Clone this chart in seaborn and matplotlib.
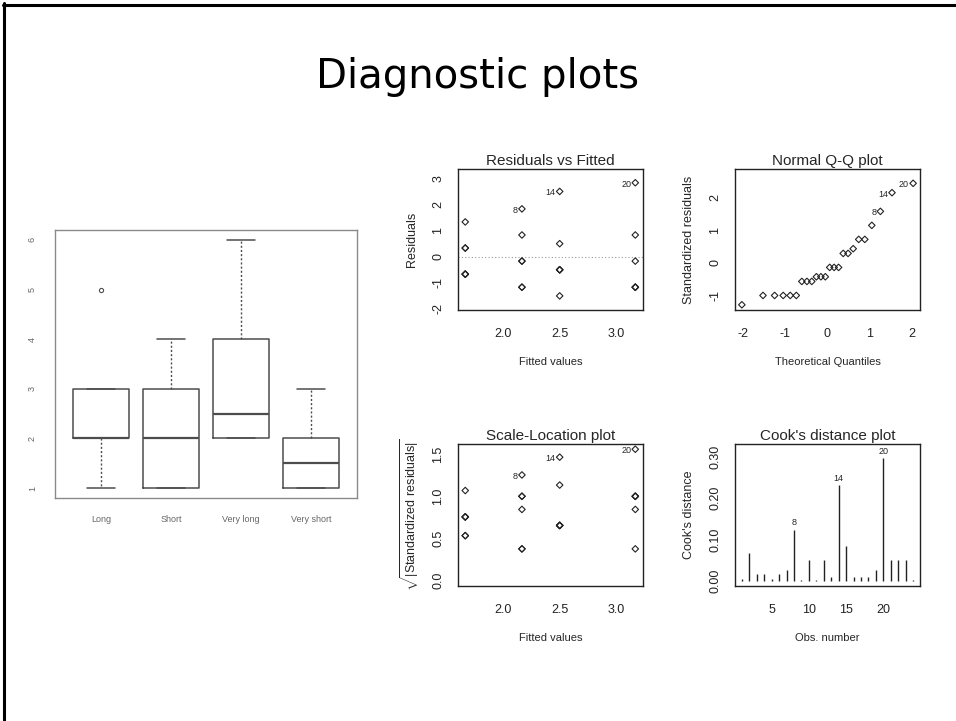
#Diagnostic plots: boxplot per group + four lm diagnostic panels
import seaborn as sns
import matplotlib.pyplot as plt
from matplotlib.lines import Line2D

#Box summaries
grupos = ["Long", "Short", "Very long", "Very short"]
caja_min = [1, 1, 2, 1]
caja_q1 = [2, 1, 2, 1]
caja_med = [2, 2, 2.5, 1.5]
caja_q3 = [3, 3, 4, 2]
caja_max = [3, 4, 6, 3]
atipicos = [[5], [], [], []]

#Residuals vs fitted / scale-location
ajustados = [1.667, 1.667, 1.667, 1.667, 1.667, 1.667,
             2.167, 2.167, 2.167, 2.167, 2.167, 2.167,
             2.5, 2.5, 2.5, 2.5, 2.5, 2.5,
             3.167, 3.167, 3.167, 3.167, 3.167, 3.167]
residuos = [-0.667, -0.667, -0.667, 0.333, 0.333, 1.333,
            -1.167, -1.167, -0.167, -0.167, 0.833, 1.833,
            -1.5, -0.5, -0.5, -0.5, 0.5, 2.5,
            -1.167, -1.167, -1.167, -0.167, 0.833, 2.833]
raiz_res_std = [0.757, 0.757, 0.757, 0.535, 0.535, 1.070,
                1.002, 1.002, 0.378, 0.378, 0.846, 1.255,
                1.135, 0.656, 0.656, 0.656, 0.656, 1.466,
                1.002, 1.002, 1.002, 0.378, 0.846, 1.560]
etiq_idx = [11, 17, 23]
etiq_txt = ["8", "14", "20"]

#Normal Q-Q
cuantiles_teo = [-2.037, -1.534, -1.258, -1.054, -0.887, -0.742, -0.611, -0.489,
                 -0.374, -0.264, -0.157, -0.052, 0.052, 0.157, 0.264, 0.374,
                 0.489, 0.611, 0.742, 0.887, 1.054, 1.258, 1.534, 2.037]
res_std_orden = [-1.289, -1.003, -1.003, -1.003, -1.003, -1.003, -0.573, -0.573,
                 -0.573, -0.430, -0.430, -0.430, -0.143, -0.143, -0.143, 0.286,
                 0.286, 0.430, 0.716, 0.716, 1.146, 1.575, 2.148, 2.435]

#Cook's distance
obs = list(range(1, 25))
cook = [0.004, 0.066, 0.016, 0.016, 0.004, 0.016, 0.026, 0.124, 0.001, 0.050, 0.001, 0.050,
        0.009, 0.231, 0.083, 0.009, 0.009, 0.009, 0.026, 0.296, 0.050, 0.050, 0.050, 0.001]

sns.set_style("white")
plt.rcParams['font.family'] = ['Liberation Sans', 'DejaVu Sans']
plt.rcParams['mathtext.fontset'] = 'custom'
plt.rcParams['mathtext.rm'] = 'Liberation Sans'
plt.rcParams['axes.unicode_minus'] = False

W, H = 956, 721
fig = plt.figure(figsize=(W / 100, H / 100), dpi=100)


def caja(l, t, r, b):
    return [l / W, 1 - b / H, (r - l) / W, (b - t) / H]


def estilo_r(ax, col="#222222"):
    for s in ax.spines.values():
        s.set_visible(True)
        s.set_color(col)
        s.set_linewidth(1.0)
    ax.tick_params(direction="out", length=5, width=0.9, colors=col, labelsize=9)
    ax.tick_params(axis="x", pad=8)
    ax.tick_params(axis="y", pad=5, labelrotation=90)
    for t in ax.get_yticklabels():
        t.set_va("center")


puntos = dict(marker="D", s=11, facecolor="none", edgecolor="#222222", linewidth=0.8)

#Slide border and title
fig.add_artist(Line2D([3 / W, 1], [1 - 4.5 / H, 1 - 4.5 / H], color="black", lw=2.2))
fig.add_artist(Line2D([4 / W, 4 / W], [0, 1 - 3 / H], color="black", lw=2.2))
fig.text(0.5, 1 - 88 / H, "Diagnostic plots", ha="center", va="baseline",
         fontsize=29, family="DejaVu Sans", color="black")

#Boxplot
ax0 = fig.add_axes(caja(55, 230, 357, 498))
stats = []
for i in range(len(grupos)):
    stats.append(dict(whislo=caja_min[i], q1=caja_q1[i], med=caja_med[i],
                      q3=caja_q3[i], whishi=caja_max[i], fliers=atipicos[i]))
gris = "#4d4d4d"
ax0.bxp(stats, positions=[1, 2, 3, 4], widths=0.8, capwidths=0.4,
        boxprops=dict(color=gris, lw=1.1),
        whiskerprops=dict(color=gris, lw=1.0, ls=(0, (1.5, 1.5))),
        capprops=dict(color=gris, lw=1.1),
        medianprops=dict(color=gris, lw=1.6),
        flierprops=dict(marker="o", ms=3, mfc="none", mec=gris, mew=0.8))
ax0.set_xlim(0.34, 4.66)
ax0.set_ylim(0.8, 6.2)
ax0.set_yticks([1, 2, 3, 4, 5, 6])
ax0.set_xticks([1, 2, 3, 4])
ax0.set_xticklabels(grupos)
estilo_r(ax0, col="#8a8a8a")
ax0.tick_params(labelsize=6.5, labelcolor="#666666", length=4)
ax0.tick_params(axis="y", pad=9)

#Residuals vs Fitted
ax1 = fig.add_axes(caja(458, 169, 643, 310))
sns.scatterplot(x=ajustados, y=residuos, ax=ax1, **puntos)
ax1.axhline(0, color="#9a9a9a", lw=0.8, ls=(0, (1, 2)), zorder=0)
for k, i in enumerate(etiq_idx):
    ax1.annotate(etiq_txt[k], (ajustados[i], residuos[i]), xytext=(-3, -1),
                 textcoords="offset points", ha="right", va="center", fontsize=6.5)
ax1.set_xlim(1.603, 3.235)
ax1.set_ylim(-2.04, 3.36)
ax1.set_xticks([2.0, 2.5, 3.0])
ax1.set_xticklabels(["2.0", "2.5", "3.0"])
ax1.set_yticks([-2, -1, 0, 1, 2, 3])
ax1.set_title("Residuals vs Fitted", fontsize=11, pad=3)
ax1.set_xlabel("Fitted values", fontsize=8, labelpad=12)
ax1.set_ylabel("Residuals", fontsize=9, labelpad=10)
estilo_r(ax1)

#Normal Q-Q
ax2 = fig.add_axes(caja(735, 169, 920, 310))
sns.scatterplot(x=cuantiles_teo, y=res_std_orden, ax=ax2, **puntos)
for k, i in enumerate([21, 22, 23]):
    ax2.annotate(etiq_txt[k], (cuantiles_teo[i], res_std_orden[i]), xytext=(-3, -1),
                 textcoords="offset points", ha="right", va="center", fontsize=6.5)
ax2.set_xlim(-2.2, 2.2)
ax2.set_ylim(-1.449, 2.874)
ax2.set_xticks([-2, -1, 0, 1, 2])
ax2.set_yticks([-1, 0, 1, 2])
ax2.set_title("Normal Q-Q plot", fontsize=11, pad=3)
ax2.set_xlabel("Theoretical Quantiles", fontsize=8, labelpad=12)
ax2.set_ylabel("Standardized residuals", fontsize=9, labelpad=10)
estilo_r(ax2)

#Scale-Location
ax3 = fig.add_axes(caja(458, 444, 643, 586))
sns.scatterplot(x=ajustados, y=raiz_res_std, ax=ax3, **puntos)
for k, i in enumerate(etiq_idx):
    ax3.annotate(etiq_txt[k], (ajustados[i], raiz_res_std[i]), xytext=(-3, -1),
                 textcoords="offset points", ha="right", va="center", fontsize=6.5)
ax3.set_xlim(1.603, 3.235)
ax3.set_ylim(-0.0624, 1.622)
ax3.set_xticks([2.0, 2.5, 3.0])
ax3.set_xticklabels(["2.0", "2.5", "3.0"])
ax3.set_yticks([0, 0.5, 1.0, 1.5])
ax3.set_yticklabels(["0.0", "0.5", "1.0", "1.5"])
ax3.set_title("Scale-Location plot", fontsize=11, pad=3)
ax3.set_xlabel("Fitted values", fontsize=8, labelpad=12)
ax3.set_ylabel(r"$\sqrt{|\mathrm{Standardized\ residuals}|}$", fontsize=9, labelpad=8)
estilo_r(ax3)

#Cook's distance
ax4 = fig.add_axes(caja(735, 444, 920, 586))
ax4.vlines(obs, 0, cook, color="#222222", lw=1.0)
for k, i in enumerate([7, 13, 19]):
    ax4.annotate(etiq_txt[k], (obs[i], cook[i]), xytext=(0, 2),
                 textcoords="offset points", ha="center", va="bottom", fontsize=6.5)
ax4.set_xlim(0.08, 24.92)
ax4.set_ylim(-0.0127, 0.331)
ax4.set_xticks([5, 10, 15, 20])
ax4.set_yticks([0, 0.05, 0.10, 0.15, 0.20, 0.25, 0.30])
ax4.set_yticklabels(["0.00", "", "0.10", "", "0.20", "", "0.30"])
ax4.set_title("Cook's distance plot", fontsize=11, pad=3)
ax4.set_xlabel("Obs. number", fontsize=8, labelpad=12)
ax4.set_ylabel("Cook's distance", fontsize=9, labelpad=10)
estilo_r(ax4)

plt.savefig("out.png", dpi=100)
